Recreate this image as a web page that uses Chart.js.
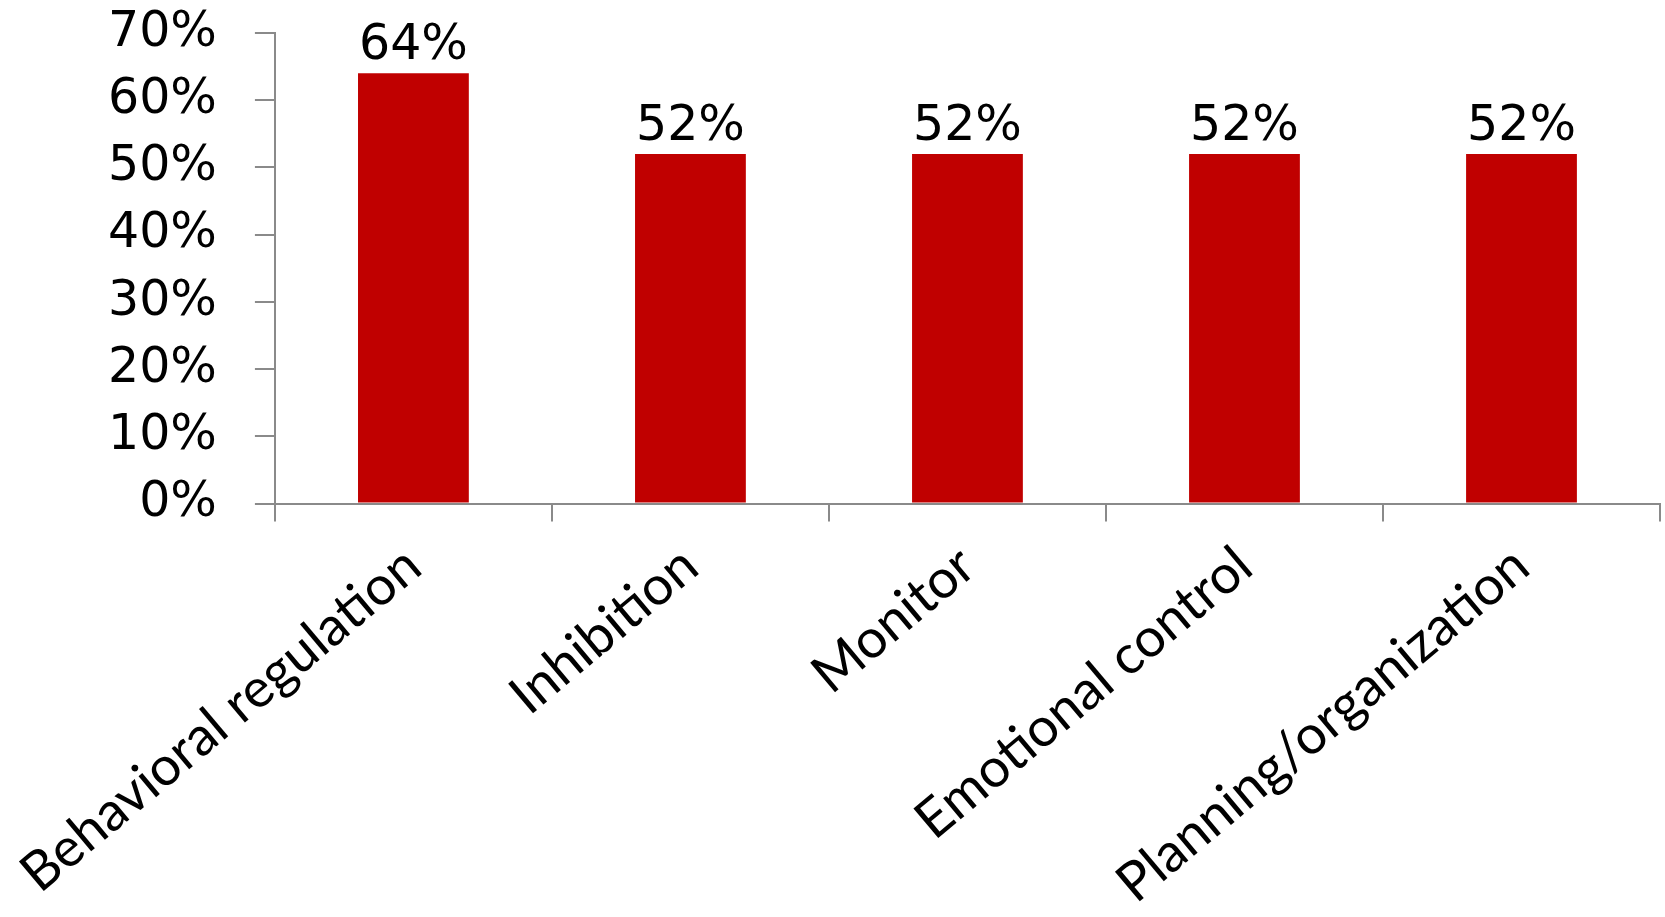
<!DOCTYPE html>
<html lang="en">
<head>
  <meta charset="UTF-8" />
  <title>Executive function scales</title>
  <script src="https://cdn.jsdelivr.net/npm/chart.js"></script>
  <style>
    body {
      margin: 0;
      padding: 0;
      background: #fff;
    }
    .chart-box {
      width: 1665px;
      height: 917px;
      position: relative;
    }
  </style>
</head>
<body>
  <div class="chart-box">
    <canvas id="scaleChart"></canvas>
  </div>
  <script>
    // Categories and percentages
    const scales = ['Behavioral regulation', 'Inhibition', 'Monitor', 'Emotional control', 'Planning/organization'];
    const percents = [64, 52, 52, 52, 52];
    const yMax = 70;
    const yStep = 10;

    const axisGray = '#8a8a8a';

    // Writes the percentage above each bar
    const valueLabels = {
      id: 'valueLabels',
      afterDatasetsDraw(chart) {
        const ctx = chart.ctx;
        const meta = chart.getDatasetMeta(0);
        ctx.save();
        ctx.font = '49px "DejaVu Sans"';
        ctx.fillStyle = '#000';
        ctx.textAlign = 'center';
        ctx.textBaseline = 'alphabetic';
        meta.data.forEach((bar, i) => {
          ctx.fillText(percents[i] + '%', bar.x, bar.y - 14);
        });
        ctx.restore();
      }
    };

    new Chart(document.getElementById('scaleChart').getContext('2d'), {
      type: 'bar',
      data: {
        labels: scales,
        datasets: [{
          data: percents,
          backgroundColor: '#c00000',
          borderWidth: 0,
          barPercentage: 0.4,
          categoryPercentage: 1.0
        }]
      },
      options: {
        responsive: true,
        maintainAspectRatio: false,
        animation: false,
        layout: {
          padding: { left: 70, right: 5, top: 0, bottom: 0 }
        },
        plugins: {
          legend: { display: false },
          tooltip: { enabled: false }
        },
        scales: {
          x: {
            grid: {
              offset: true,
              drawOnChartArea: false,
              drawTicks: true,
              tickLength: 18,
              color: axisGray,
              lineWidth: 2
            },
            border: { color: axisGray, width: 2 },
            ticks: {
              color: '#000',
              font: { family: 'Lato', size: 54 },
              minRotation: 40,
              maxRotation: 40,
              autoSkip: false,
              padding: 12
            },
            // rotated labels are measured a little generously; trim the box
            afterFit(scale) {
              scale.height -= 11;
              scale.paddingLeft = 0;
            }
          },
          y: {
            min: 0,
            max: yMax,
            grid: {
              drawOnChartArea: false,
              drawTicks: true,
              tickLength: 20,
              color: axisGray,
              lineWidth: 2
            },
            border: { color: axisGray, width: 2 },
            ticks: {
              stepSize: yStep,
              color: '#000',
              font: { family: 'DejaVu Sans', size: 49 },
              padding: 38,
              callback: v => v + '%'
            },
            // the horizontal tick padding should not push the top of the axis down
            afterFit(scale) {
              scale.paddingTop = 33;
              scale.paddingBottom = 29;
            }
          }
        }
      },
      plugins: [valueLabels]
    });
  </script>
</body>
</html>
